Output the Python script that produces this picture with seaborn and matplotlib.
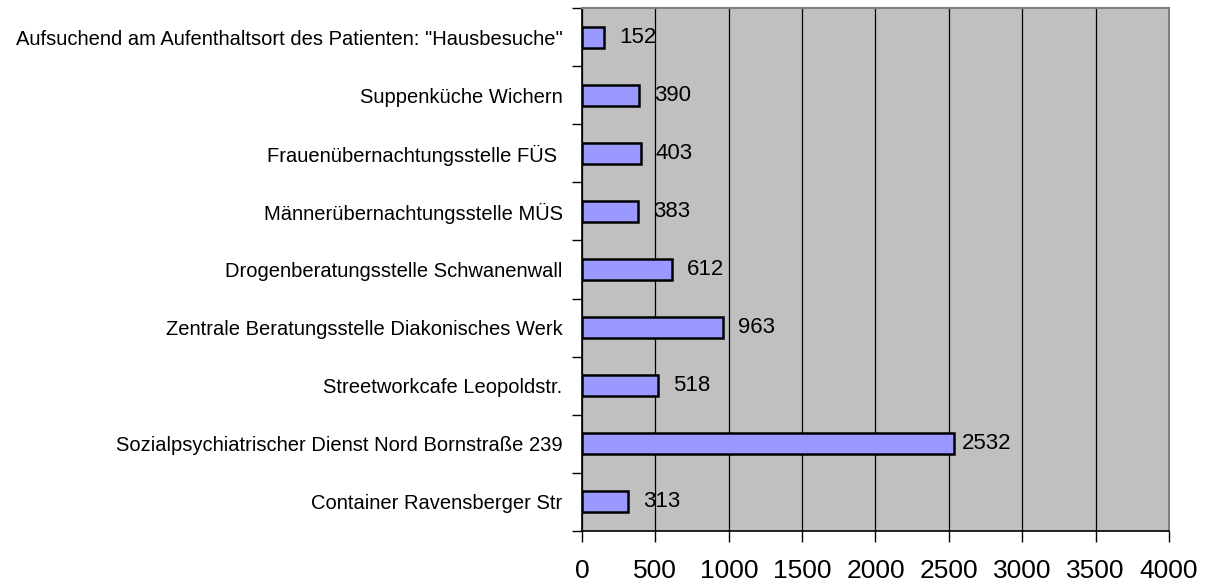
import pandas as pd
import numpy as np
import matplotlib
matplotlib.use('Agg')
import matplotlib.pyplot as plt
import seaborn as sns

categories = ['Aufsuchend am Aufenthaltsort des Patienten: "Hausbesuche"',
              'Suppenküche Wichern',
              'Frauenübernachtungsstelle FÜS ',
              'Männerübernachtungsstelle MÜS',
              'Drogenberatungsstelle Schwanenwall',
              'Zentrale Beratungsstelle Diakonisches Werk',
              'Streetworkcafe Leopoldstr.',
              'Sozialpsychiatrischer Dienst Nord Bornstraße 239',
              'Container Ravensberger Str']
values = [152, 390, 403, 383, 612, 963, 518, 2532, 313]
x_ticks = [0, 500, 1000, 1500, 2000, 2500, 3000, 3500, 4000]

df = pd.DataFrame({'ort': categories, 'anzahl': values})

sns.set_style('white')
plt.rcParams['font.family'] = ['Liberation Sans', 'DejaVu Sans']
plt.rcParams['text.color'] = 'black'
plt.rcParams['xtick.color'] = 'black'
plt.rcParams['ytick.color'] = 'black'

fig = plt.figure(figsize=(12.07, 5.85), dpi=100)
ax = fig.add_axes([0.4822, 0.0923, 0.9685 - 0.4822, 0.9863 - 0.0923])
ax.set_facecolor('#c0c0c0')

sns.barplot(data=df, x='anzahl', y='ort', orient='h', color='#9999ff',
            saturation=1, width=0.36, edgecolor='black', linewidth=1.8, ax=ax, zorder=3)

ax.set_xlim(0, 4000)
ax.set_ylim(len(categories) - 0.5, -0.5)
ax.set_xticks(x_ticks)
ax.set_xticklabels([str(t) for t in x_ticks], fontsize=19)
ax.xaxis.grid(True, color='black', linewidth=0.9, zorder=0)
ax.set_axisbelow(True)

# Kategorien mittig, Striche an den Grenzen
ax.set_yticks(np.arange(len(categories)))
ax.set_yticklabels(categories, fontsize=14.5)
ax.set_yticks(np.arange(len(categories) + 1) - 0.5, minor=True)
ax.tick_params(axis='y', which='major', length=0, pad=14)
ax.tick_params(axis='y', which='minor', length=7, width=1, color='black', left=True)
ax.tick_params(axis='x', which='major', length=8, width=1, color='black', bottom=True, pad=12)

ax.set_xlabel('')
ax.set_ylabel('')

for s in ['left', 'bottom']:
    ax.spines[s].set_color('black')
    ax.spines[s].set_linewidth(1.2)
for s in ['top', 'right']:
    ax.spines[s].set_color('#808080')
    ax.spines[s].set_linewidth(1.5)

for i, v in enumerate(values):
    ax.annotate(str(v), xy=(v, i), xytext=(24, 0), textcoords='offset points',
                ha='center', va='center', fontsize=16, color='black', zorder=5)

plt.savefig('out.png', dpi=100)
